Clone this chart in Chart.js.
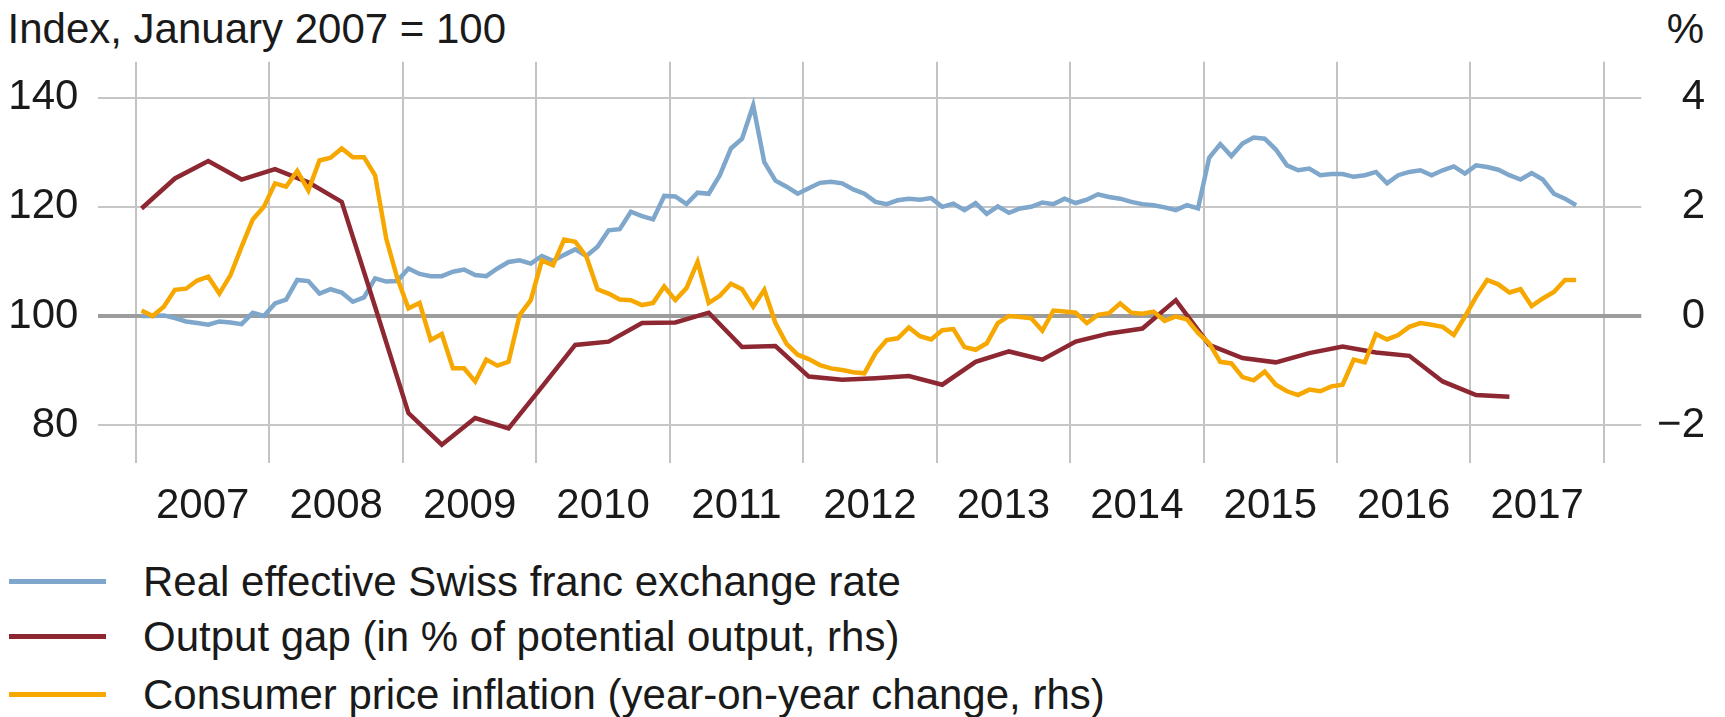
<!DOCTYPE html>
<html>
<head>
<meta charset="utf-8">
<title>Swiss franc, output gap and inflation</title>
<script src="https://cdn.jsdelivr.net/npm/chart.js@4.4.0/dist/chart.umd.min.js"></script>
<style>
    body { margin: 0; background: #fff; }
    #page {
        position: relative; width: 1725px; height: 717px; overflow: hidden;
        font-family: 'Liberation Sans', Arial, sans-serif; color: #1a1a1a;
    }
    #chart-box { position: absolute; left: 0; top: 0; width: 1725px; height: 540px; }
    .note { position: absolute; top: 7.7px; font-size: 42px; line-height: 42px; white-space: nowrap; }
    .legend-row { position: absolute; left: 0; width: 1725px; height: 42px; font-size: 42px; line-height: 42px; white-space: nowrap; }
    .legend-line { position: absolute; left: 9px; top: 18px; width: 97px; height: 5px; }
    .legend-text { position: absolute; left: 143px; top: 0; }
</style>
</head>
<body>
<div id="page">
    <div class="note" style="left: 7.5px;">Index, January 2007 = 100</div>
    <div class="note" style="right: 21px;">%</div>
    <div id="chart-box"><canvas id="chart"></canvas></div>
    <div id="legend"></div>
</div>
<script>
// year labels, one per year column
const years = ['2007', '2008', '2009', '2010', '2011', '2012', '2013', '2014', '2015', '2016', '2017'];

// monthly, Jan 2007 .. Oct 2017 (index, Jan 2007 = 100)
const exchangeRate = [
    100.0, 100.0, 100.1, 99.6, 99.0, 98.7, 98.4, 99.0, 98.8, 98.5,
    100.6, 100.0, 102.3, 103.0, 106.6, 106.4, 104.1, 104.9, 104.3, 102.6,
    103.4, 106.9, 106.3, 106.4, 108.7, 107.7, 107.3, 107.3, 108.1, 108.5,
    107.5, 107.3, 108.7, 109.9, 110.2, 109.6, 111.0, 110.1, 111.2, 112.2,
    111.0, 112.7, 115.7, 115.9, 119.1, 118.3, 117.7, 122.0, 121.9, 120.5,
    122.6, 122.4, 125.8, 130.7, 132.5, 138.6, 128.2, 124.8, 123.7, 122.4,
    123.4, 124.4, 124.6, 124.3, 123.2, 122.4, 120.9, 120.5, 121.2, 121.5,
    121.3, 121.6, 120.0, 120.6, 119.4, 120.7, 118.7, 120.1, 118.9, 119.7,
    120.0, 120.8, 120.5, 121.5, 120.7, 121.3, 122.3, 121.8, 121.5, 120.9,
    120.5, 120.3, 119.9, 119.4, 120.3, 119.7, 129.0, 131.5, 129.3, 131.6,
    132.7, 132.5, 130.5, 127.6, 126.7, 127.0, 125.8, 126.0, 126.0, 125.5,
    125.8, 126.4, 124.3, 125.8, 126.4, 126.7, 125.8, 126.7, 127.4, 126.1,
    127.6, 127.3, 126.8, 125.8, 125.0, 126.2, 125.0, 122.4, 121.5, 120.3
];

// quarterly, Q1 2007 .. Q2 2017 (% of potential output)
const outputGap = [
    1.97, 2.52, 2.84, 2.50, 2.69, 2.45, 2.09, 0.17, -1.78, -2.36,
    -1.87, -2.06, -1.30, -0.53, -0.47, -0.13, -0.12, 0.06, -0.57, -0.55,
    -1.11, -1.17, -1.14, -1.10, -1.26, -0.84, -0.65, -0.80, -0.47, -0.32,
    -0.23, 0.29, -0.53, -0.77, -0.85, -0.68, -0.56, -0.67, -0.73, -1.20,
    -1.45, -1.48
];

// monthly, Jan 2007 .. Oct 2017 (year-on-year %)
const inflation = [
    0.10, 0.00, 0.17, 0.48, 0.50, 0.65, 0.72, 0.41, 0.75, 1.27,
    1.77, 2.00, 2.43, 2.37, 2.66, 2.30, 2.85, 2.90, 3.07, 2.91,
    2.91, 2.58, 1.42, 0.69, 0.14, 0.24, -0.44, -0.33, -0.96, -0.96,
    -1.20, -0.80, -0.91, -0.84, 0.02, 0.29, 1.02, 0.93, 1.40, 1.36,
    1.09, 0.49, 0.41, 0.30, 0.29, 0.20, 0.24, 0.54, 0.29, 0.51,
    0.99, 0.24, 0.37, 0.59, 0.49, 0.17, 0.48, -0.13, -0.51, -0.71,
    -0.79, -0.90, -0.96, -0.99, -1.03, -1.05, -0.68, -0.44, -0.41, -0.21,
    -0.37, -0.43, -0.26, -0.24, -0.57, -0.62, -0.50, -0.13, 0.00, -0.02,
    -0.04, -0.27, 0.10, 0.08, 0.06, -0.13, 0.02, 0.05, 0.23, 0.06,
    0.04, 0.08, -0.09, -0.01, -0.06, -0.31, -0.50, -0.84, -0.87, -1.12,
    -1.18, -1.02, -1.26, -1.38, -1.45, -1.35, -1.38, -1.29, -1.26, -0.80,
    -0.85, -0.33, -0.43, -0.35, -0.20, -0.13, -0.16, -0.20, -0.35, -0.01,
    0.35, 0.66, 0.58, 0.43, 0.49, 0.18, 0.32, 0.44, 0.66, 0.66
];

const leftTicks = [80, 100, 120, 140];
const rightTicks = [-2, 0, 2, 4];

const seriesNames = [
    'Real effective Swiss franc exchange rate',
    'Output gap (in % of potential output, rhs)',
    'Consumer price inflation (year-on-year change, rhs)'
];
const seriesColors = ['#7ea7cb', '#8d2832', '#f6a800'];

// x is counted in months from January 2007, points sit mid-month
const monthly = arr => arr.map((v, i) => ({ x: i + 0.5, y: v }));
const quarterly = arr => arr.map((v, i) => ({ x: i * 3 + 0.5, y: v }));

const FONT = "'Liberation Sans', Arial, sans-serif";
const W = 1725, H = 540;

const canvas = document.getElementById('chart');
canvas.width = W;
canvas.height = H;

new Chart(canvas.getContext('2d'), {
    type: 'line',
    data: {
        datasets: [
            { label: seriesNames[0], data: monthly(exchangeRate), yAxisID: 'y', borderColor: seriesColors[0], order: 2 },
            { label: seriesNames[1], data: quarterly(outputGap), yAxisID: 'y1', borderColor: seriesColors[1], order: 1 },
            { label: seriesNames[2], data: monthly(inflation), yAxisID: 'y1', borderColor: seriesColors[2], order: 0 }
        ]
    },
    options: {
        responsive: false,
        animation: false,
        layout: { padding: { top: 61.7, right: 20, bottom: 0, left: 0 } },
        elements: {
            line: { borderWidth: 4.5, tension: 0, fill: false },
            point: { radius: 0, hoverRadius: 0 }
        },
        plugins: { legend: { display: false }, tooltip: { enabled: false } },
        scales: {
            x: {
                type: 'linear',
                min: -3.38,
                max: 135.36,
                afterBuildTicks: scale => {
                    const t = [];
                    for (let i = 0; i <= years.length; i++) {
                        t.push({ value: i * 12 });
                        if (i < years.length) t.push({ value: i * 12 + 6 });
                    }
                    scale.ticks = t;
                },
                afterFit: scale => { scale.height = H - 463.3; },
                border: { display: false },
                grid: {
                    drawTicks: false,
                    lineWidth: 2,
                    color: ctx => (ctx.tick && ctx.tick.value % 12 === 0) ? '#c3c3c3' : 'rgba(0,0,0,0)'
                },
                ticks: {
                    autoSkip: false,
                    maxRotation: 0,
                    padding: 18,
                    color: '#1a1a1a',
                    font: { family: FONT, size: 42 },
                    callback: v => (v % 12 === 6) ? years[(v - 6) / 12] : ''
                }
            },
            y: {
                position: 'left',
                min: 73.0,
                max: 146.6,
                afterBuildTicks: scale => { scale.ticks = leftTicks.map(v => ({ value: v })); },
                afterFit: scale => { scale.width = 98.4; },
                border: { display: false },
                grid: {
                    drawTicks: false,
                    color: ctx => (ctx.tick && ctx.tick.value === 100) ? '#9c9c9c' : '#c6c6c6',
                    lineWidth: ctx => (ctx.tick && ctx.tick.value === 100) ? 4 : 2
                },
                ticks: {
                    padding: 20,
                    color: '#1a1a1a',
                    font: { family: FONT, size: 42 }
                }
            },
            y1: {
                position: 'right',
                min: -2.7,
                max: 4.66,
                afterBuildTicks: scale => { scale.ticks = rightTicks.map(v => ({ value: v })); },
                afterFit: scale => { scale.width = 63.7; },
                border: { display: false },
                grid: { drawOnChartArea: false, drawTicks: false },
                ticks: {
                    crossAlign: 'far',
                    color: '#1a1a1a',
                    font: { family: FONT, size: 42 },
                    callback: v => String(v).replace('-', '\u2212')
                }
            }
        }
    }
});

// legend below the chart
function createLegend(containerId) {
    const container = document.getElementById(containerId);
    const rowTops = [560.5, 615.5, 674.0];
    seriesNames.forEach((name, i) => {
        const row = document.createElement('div');
        row.className = 'legend-row';
        row.style.top = rowTops[i] + 'px';
        row.innerHTML = `
            <span class="legend-line" style="background-color: ${seriesColors[i]}"></span>
            <span class="legend-text">${name}</span>
        `;
        container.appendChild(row);
    });
}

createLegend('legend');
</script>
</body>
</html>
